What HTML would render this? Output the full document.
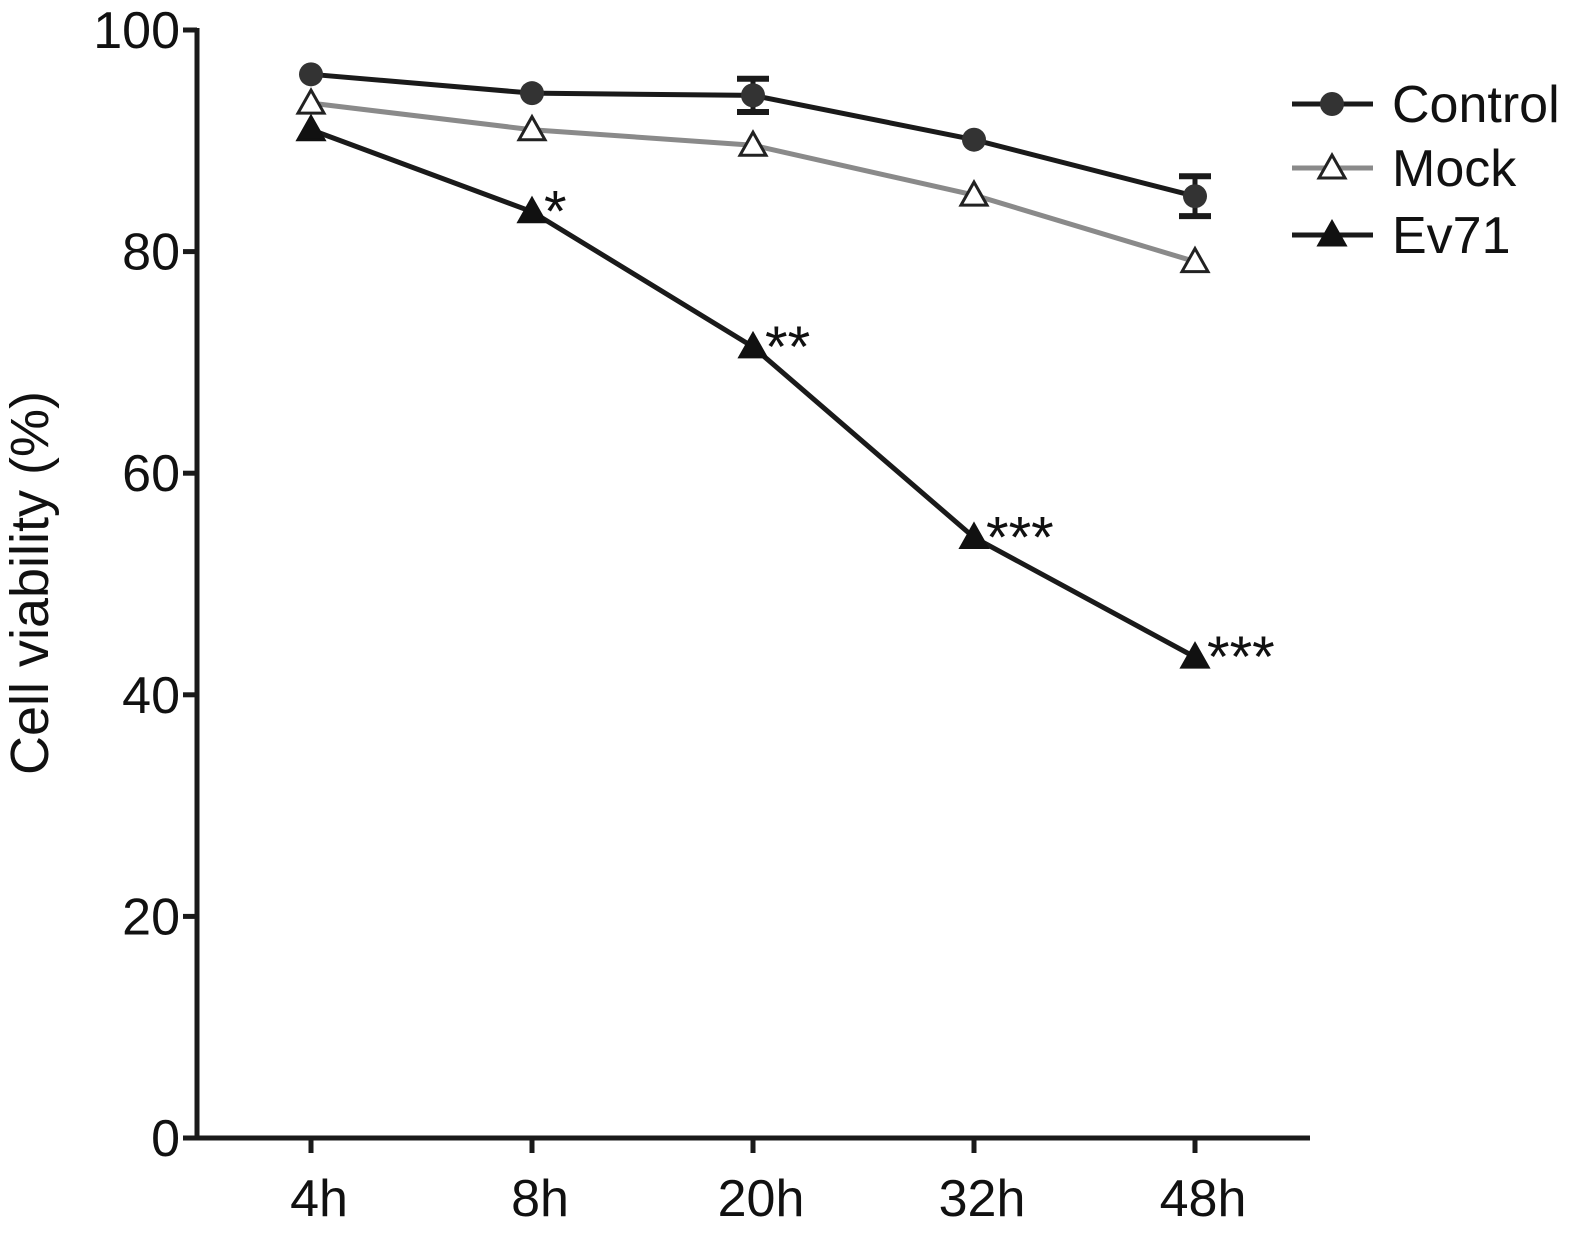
<!DOCTYPE html>
<html><head><meta charset="utf-8"><style>
body{margin:0;background:#fff}
svg{display:block;font-family:"Liberation Sans",Arial,sans-serif}
</style></head><body>
<svg id="chart" width="1588" height="1257" viewBox="0 0 1588 1257"></svg>
<script>
const categories=["4h","8h","20h","32h","48h"];
const controlValues=[96.0,94.3,94.1,90.1,85.0];
const controlErrors=[0,0,1.5,0,1.8];
const mockValues=[93.4,91.0,89.6,85.1,79.1];
const ev71Values=[91.0,83.6,71.4,54.2,43.4];
const ev71Stars=["","*","**","***","***"];
const yTicks=[0,20,40,60,80,100];

const NS="http://www.w3.org/2000/svg";
const svg=document.getElementById('chart');
const y=v=>1138-(v/100)*1108;
const x=i=>311+i*221;
function mk(tag,attrs,parent){const e=document.createElementNS(NS,tag);for(const k in attrs)e.setAttribute(k,attrs[k]);(parent||svg).appendChild(e);return e;}

const ya=mk('line',{x1:197,y1:28,x2:197,y2:1140,stroke:'#1a1a1a','stroke-width':5});


const xa=mk('line',{x1:195,y1:1138,x2:1310,y2:1138,stroke:'#1a1a1a','stroke-width':5});


yTicks.forEach(t=>{
  mk('line',{x1:183,y1:y(t),x2:197,y2:y(t),stroke:'#1a1a1a','stroke-width':5});
  const tx=mk('text',{x:180,y:y(t)+18,'text-anchor':'end','font-size':52,fill:'#111'});
  tx.textContent=t;
  
  
});
categories.forEach((c,i)=>{
  mk('line',{x1:x(i),y1:1138,x2:x(i),y2:1153,stroke:'#1a1a1a','stroke-width':5});
  const tx=mk('text',{x:x(i)+8,y:1216,'text-anchor':'middle','font-size':52,fill:'#111'});
  tx.textContent=c;
  
  
});
const yt=mk('text',{x:0,y:0,transform:'translate(48,583) rotate(-90)','text-anchor':'middle','font-size':54,fill:'#111'});
yt.textContent='Cell viability (%)';



function line(vals,color,w){return mk('polyline',{points:vals.map((v,i)=>x(i)+','+y(v)).join(' '),fill:'none',stroke:color,'stroke-width':w});}
function tri(cx,cy,fill,stroke){return mk('polygon',{points:`${cx},${cy-13} ${cx+13},${cy+10} ${cx-13},${cy+10}`,fill:fill,stroke:stroke,'stroke-width':3});}

const ml=line(mockValues,'#8a8a8a',5);


const el=line(ev71Values,'#1a1a1a',5);


const cl=line(controlValues,'#1a1a1a',5);



controlValues.forEach((v,i)=>{
  const e=controlErrors[i];
  if(e>0){
    const g=mk('g',{});
    
    
    mk('line',{x1:x(i),y1:y(v+e),x2:x(i),y2:y(v-e),stroke:'#1a1a1a','stroke-width':5},g);
    mk('line',{x1:x(i)-16,y1:y(v+e),x2:x(i)+16,y2:y(v+e),stroke:'#1a1a1a','stroke-width':6},g);
    mk('line',{x1:x(i)-16,y1:y(v-e),x2:x(i)+16,y2:y(v-e),stroke:'#1a1a1a','stroke-width':6},g);
  }
  const c=mk('circle',{cx:x(i),cy:y(v),r:12,fill:'#333'});
  
  
});
mockValues.forEach((v,i)=>{
  const t=tri(x(i),y(v),'#fff','#222');
  
  
});
ev71Values.forEach((v,i)=>{
  const t=tri(x(i),y(v),'#111','#111');
  
  
  if(ev71Stars[i]){
    const s=mk('text',{x:x(i)+12,y:y(v)+20,'font-size':58,fill:'#111'});
    s.textContent=ev71Stars[i];
    
    
  }
});

const legend=[["Control",'#1a1a1a','circle',104],["Mock",'#8a8a8a','open',168],["Ev71",'#1a1a1a','filled',235]];
legend.forEach(([name,col,m,ly])=>{
  const g=mk('g',{});
  
  
  mk('line',{x1:1292,y1:ly,x2:1373,y2:ly,stroke:col,'stroke-width':5},g);
  if(m==='circle')mk('circle',{cx:1332,cy:ly,r:12,fill:'#333'},g);
  else g.appendChild(tri(1332,ly,m==='open'?'#fff':'#111',m==='open'?'#222':'#111'));
  const t=mk('text',{x:1392,y:ly+18,'font-size':52,fill:'#111'},g);
  t.textContent=name;
});
</script>
</body></html>
